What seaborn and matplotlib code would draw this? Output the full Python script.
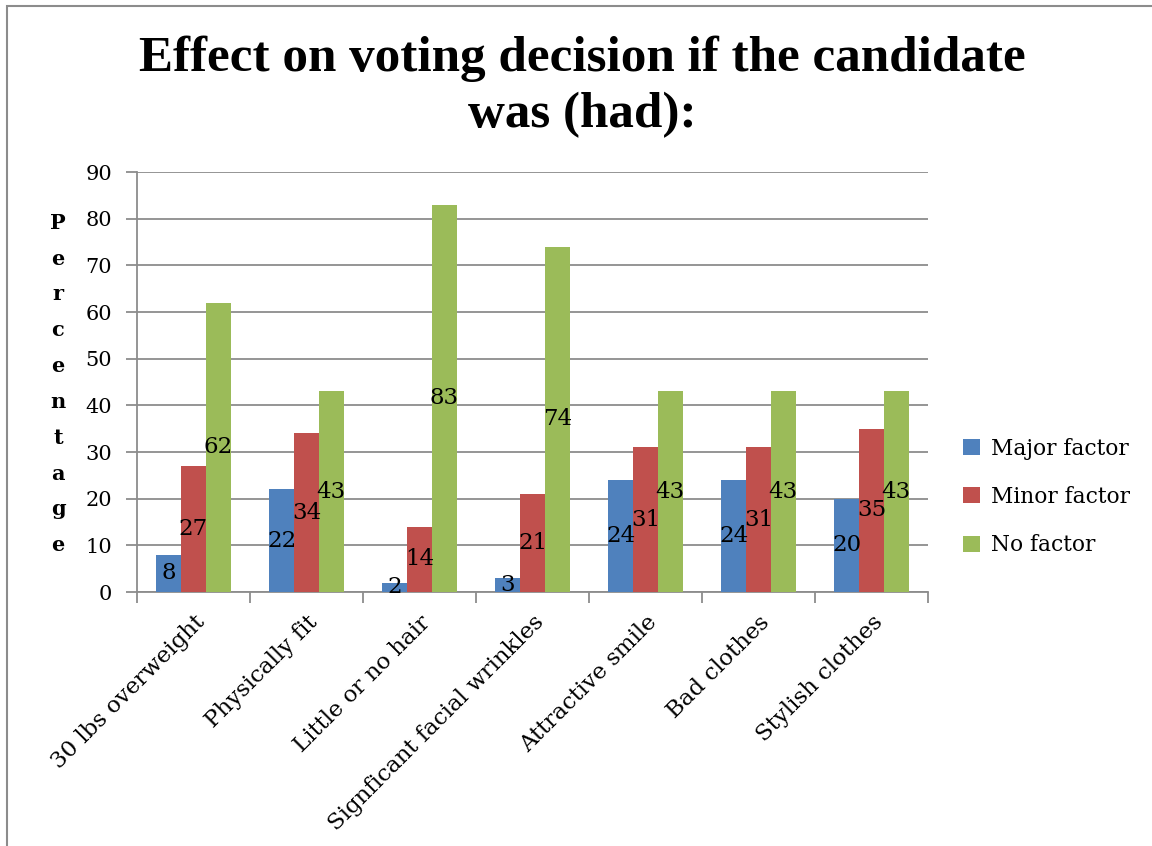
import matplotlib
matplotlib.use("Agg")
import matplotlib.pyplot as plt
import seaborn as sns
import pandas as pd
from matplotlib.patches import Rectangle

categories = ["30 lbs overweight", "Physically fit", "Little or no hair",
              "Signficant facial wrinkles", "Attractive smile", "Bad clothes",
              "Stylish clothes"]
series_names = ["Major factor", "Minor factor", "No factor"]
major = [8, 22, 2, 3, 24, 24, 20]
minor = [27, 34, 14, 21, 31, 31, 35]
nofactor = [62, 43, 83, 74, 43, 43, 43]
yticks = [0, 10, 20, 30, 40, 50, 60, 70, 80, 90]

colors = ["#4F81BD", "#C0504D", "#9BBB59"]

rows = []
for name, vals in zip(series_names, [major, minor, nofactor]):
    for cat, v in zip(categories, vals):
        rows.append({"category": cat, "series": name, "value": v})
df = pd.DataFrame(rows)

sns.set_theme(style="white")
plt.rcParams["font.family"] = ["DejaVu Serif"]
plt.rcParams["text.color"] = "black"
plt.rcParams["xtick.color"] = "black"
plt.rcParams["ytick.color"] = "black"
plt.rcParams["xtick.labelcolor"] = "black"
plt.rcParams["ytick.labelcolor"] = "black"

fig = plt.figure(figsize=(11.52, 8.46), dpi=100)
ax = fig.add_axes([137 / 1152, 1 - 592 / 846, (928 - 137) / 1152, (592 - 172) / 846])

sns.barplot(data=df, x="category", y="value", hue="series", palette=colors,
            order=categories, hue_order=series_names, width=0.66, gap=0,
            linewidth=0, saturation=1, ax=ax, zorder=3)

for cont in ax.containers:
    ax.bar_label(cont, label_type="center", fontsize=16.5, color="black")

ax.set_ylim(0, 90)
ax.set_yticks(yticks)
ax.set_xlim(-0.5, len(categories) - 0.5)
ax.yaxis.grid(True, color="#8C8C8C", linewidth=1.3, zorder=0)
ax.xaxis.grid(False)
ax.set_axisbelow(True)
for side in ["top", "right"]:
    ax.spines[side].set_visible(False)
for side in ["left", "bottom"]:
    ax.spines[side].set_color("#8C8C8C")
    ax.spines[side].set_linewidth(1.3)

ax.tick_params(axis="y", which="both", left=True, length=8, width=1.3,
               color="#8C8C8C", labelcolor="black", labelsize=15, pad=10)
ax.set_xticks([i - 0.5 for i in range(len(categories) + 1)], minor=False)
ax.set_xticklabels([])
ax.tick_params(axis="x", which="major", bottom=True, length=8, width=1.3,
               color="#8C8C8C")
ax.set_xticks(range(len(categories)), minor=True)
ax.set_xticklabels(categories, minor=True, rotation=45, ha="right",
                   rotation_mode="anchor", fontsize=16.5, color="black")
ax.tick_params(axis="x", which="minor", bottom=False, length=0, pad=14)

ax.set_xlabel("")
ax.set_ylabel("")
fig.text(58 / 1152, 1 - 384 / 846, "\n".join("Percentage"), ha="center",
         va="center", fontsize=15, fontweight="bold", linespacing=1.99,
         color="black")

fig.suptitle("Effect on voting decision if the candidate\nwas (had):",
             x=582 / 1152, y=1 - 36 / 846, va="top", fontsize=36.8,
             fontweight="bold", linespacing=1.27, color="black",
             fontfamily=["Liberation Serif", "DejaVu Serif"])

leg = ax.legend(loc="center left", bbox_to_anchor=(1.02, (592 - 497) / 420),
                frameon=False, fontsize=15.7, handlelength=0.75,
                handleheight=0.75, handletextpad=0.5, labelspacing=1.2)
for t in leg.get_texts():
    t.set_color("black")

fig.patches.append(Rectangle((7 / 1152, -0.05), 1.2, 1 - 6 / 846 + 0.05,
                             transform=fig.transFigure, fill=False,
                             edgecolor="#8C8C8C", linewidth=1.5))

fig.savefig("out.png", dpi=100, facecolor="white")
